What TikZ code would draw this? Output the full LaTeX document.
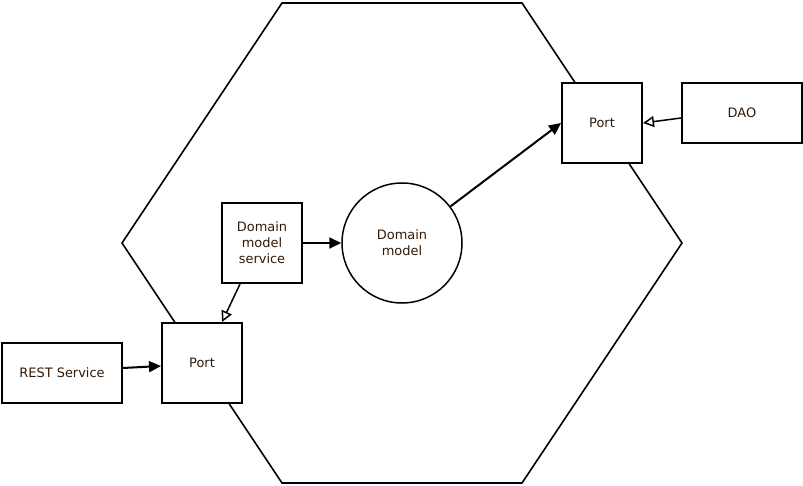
\documentclass[tikz,border=0pt]{standalone}
\usepackage{fontspec}
\setmainfont{DejaVu Sans}
\usepackage{xcolor}
\usetikzlibrary{positioning,calc,arrows.meta}

\definecolor{labelbrown}{RGB}{50,25,5}

\begin{document}
\begin{tikzpicture}[x=1bp, y=-1bp, thick,
    every node/.style={font=\fontsize{13}{16}\selectfont, text=labelbrown, align=center},
    portbox/.style={draw, line width=2bp, fill=white, minimum width=80bp, minimum height=80bp},
    outerbox/.style={draw, line width=2bp, fill=white, minimum width=120bp, minimum height=60bp},
    uses/.style={-{Triangle[length=12bp,width=11bp]}, line width=2bp},
    implements/.style={-{Triangle[open,length=11bp,width=11bp,fill=white]}, line width=1.5bp}]
    \useasboundingbox (0,0) rectangle (803,486);

    % hexagon
    \draw[line width=1.6bp] (282,3) -- (522,3) -- (682,243) -- (522,483) -- (282,483) -- (122,243) -- cycle;

    \node [portbox] (portright) at (602,123) {Port};
    \node [outerbox] (dao) at (742,113) {DAO};
    \node [portbox] (service) at (262,243) {Domain\\model\\service};
    \node [draw, circle, line width=1.5bp, fill=white, minimum size=120bp] (model) at (402,243) {Domain\\model};
    \node [portbox] (portleft) at (202,363) {Port};
    \node [outerbox] (rest) at (62,373) {REST Service};

    \draw [uses] (model) -- (portright.west);
    \draw [implements] ([yshift=-5bp]dao.west) -- (portright.east);
    \draw [uses] (service.east) -- (model.west);
    \draw [implements] ([xshift=-22bp]service.south) -- ([xshift=20bp]portleft.north);
    \draw [uses] ([yshift=5bp]rest.east) -- ([yshift=-3bp]portleft.west);
\end{tikzpicture}
\end{document}
